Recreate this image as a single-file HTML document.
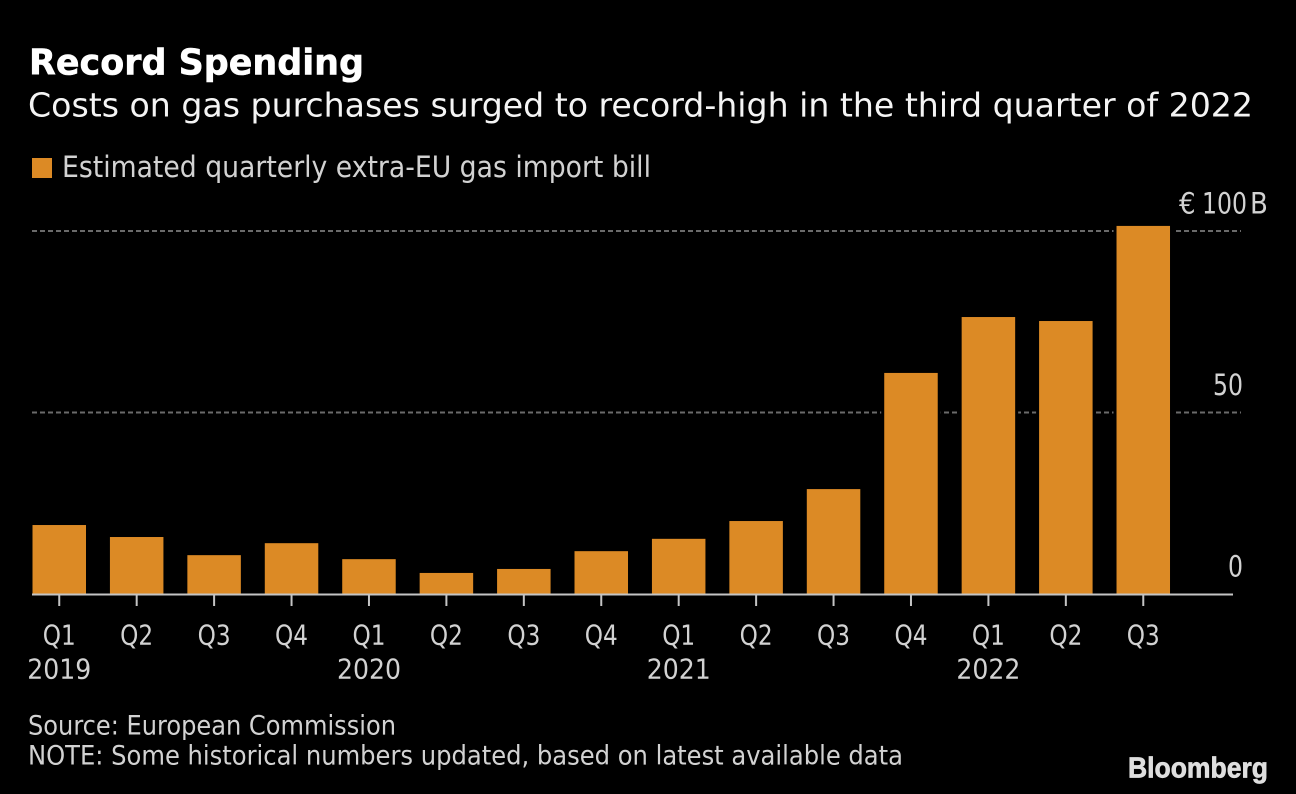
<!DOCTYPE html>
<html lang="en">
<head>
<meta charset="utf-8">
<title>Record Spending</title>
<style>
html,body{margin:0;padding:0;background:#000;width:1296px;height:794px;overflow:hidden}
svg{display:block}
text{font-family:"DejaVu Sans",sans-serif;font-stretch:condensed;fill:#d2d2d2}
</style>
</head>
<body>
<svg id="chart" xmlns="http://www.w3.org/2000/svg" width="1296" height="794" viewBox="0 0 1296 794">
<rect width="1296" height="794" fill="#000"/>
<text x="29" y="74.5" font-size="36" font-weight="700" style="fill:#fff;stroke:#fff;stroke-width:.5" textLength="335" lengthAdjust="spacingAndGlyphs">Record Spending</text>
<text x="28" y="116.5" font-size="33" style="fill:#f4f4f4" textLength="1225" lengthAdjust="spacingAndGlyphs">Costs on gas purchases surged to record-high in the third quarter of 2022</text>
<rect x="32" y="158" width="20" height="20" fill="#dc8a25"/>
<text x="62" y="177" font-size="29" textLength="589" lengthAdjust="spacingAndGlyphs">Estimated quarterly extra-EU gas import bill</text>
<g id="grid"></g>
<g id="bars"></g>
<g id="axis"></g>
<g id="yticks"></g>
<text x="28" y="734.5" font-size="27" textLength="368" lengthAdjust="spacingAndGlyphs">Source: European Commission</text>
<text x="28" y="764.5" font-size="27" textLength="875" lengthAdjust="spacingAndGlyphs">NOTE: Some historical numbers updated, based on latest available data</text>
<text x="1128" y="777.5" font-size="29" font-weight="700" style="font-family:'Liberation Sans',sans-serif;font-stretch:normal;fill:#dedede;stroke:#dedede;stroke-width:.7" textLength="140" lengthAdjust="spacingAndGlyphs">Bloomberg</text>
</svg>
<script>
const quarters = ["Q1","Q2","Q3","Q4","Q1","Q2","Q3","Q4","Q1","Q2","Q3","Q4","Q1","Q2","Q3"];
const years = ["2019","","","","2020","","","","2021","","","","2022","",""];
const importBill = [19, 15.7, 10.7, 14, 9.6, 5.8, 6.9, 11.8, 15.2, 20.1, 28.9, 60.9, 76.3, 75.2, 101.4];
const yTicks = [0, 50, 100];
const gridTicks = [50, 100];

const NS = "http://www.w3.org/2000/svg";
function y(v){ return 594 - v * 3.63; }
function x(i){ return 32.5 + i * 77.43; }
const barWidth = 53.5;
function make(tag, attrs, parent, txt){
  const el = document.createElementNS(NS, tag);
  for (const k in attrs) el.setAttribute(k, attrs[k]);
  if (txt !== undefined) el.textContent = txt;
  parent.appendChild(el);
  return el;
}
const gridG = document.getElementById("grid");
const barsG = document.getElementById("bars");
const axisG = document.getElementById("axis");
const yG = document.getElementById("yticks");

gridTicks.forEach(function(t){
  const line = make("line", {x1:32, x2:1241, y1:y(t), y2:y(t), stroke:"#6a6a6a", "stroke-width":2, "stroke-dasharray":"5 3"}, gridG);
  
  
});

importBill.forEach(function(v, i){
  const halo = make("rect", {x:x(i)-3, y:y(v)-3, width:barWidth+6, height:y(0)-y(v)+3, fill:"#000"}, barsG);
  
  
  const bar = make("rect", {x:x(i), y:y(v), width:barWidth, height:y(0)-y(v), fill:"#dc8a25"}, barsG);
  
  
});

const baseline = make("line", {x1:32, x2:1233, y1:y(0)+0.5, y2:y(0)+0.5, stroke:"#c4c4c4", "stroke-width":2}, axisG);



quarters.forEach(function(q, i){
  const cx = x(i) + barWidth / 2;
  const tick = make("line", {x1:cx, x2:cx, y1:y(0), y2:606, stroke:"#c4c4c4", "stroke-width":2}, axisG);
  
  
  const label = make("text", {x:cx, y:644.5, "font-size":28, "text-anchor":"middle", textLength:33, lengthAdjust:"spacingAndGlyphs"}, axisG, q);
  
  
  if (years[i]) {
    const yl = make("text", {x:cx, y:678.5, "font-size":28, "text-anchor":"middle", textLength:64, lengthAdjust:"spacingAndGlyphs"}, axisG, years[i]);
    
    
  }
});

yTicks.forEach(function(t){
  const str = String(t);
  const isTop = t === yTicks[yTicks.length - 1];
  const label = make("text", {x:isTop ? 1247 : 1243, y:y(t)-17.5, "font-size":29, "text-anchor":"end"}, yG, str);
  
  
  label.setAttribute('textLength', 15 * str.length);
  label.setAttribute('lengthAdjust', 'spacingAndGlyphs');
  if (isTop) {
    const pre = make("text", {x:1179, y:y(t)-17.5, "font-size":29}, yG, "€");
    
    
    const suf = make("text", {x:1250, y:y(t)-17.5, "font-size":29}, yG, "B");
    
    
  }
});
</script>
</body>
</html>
